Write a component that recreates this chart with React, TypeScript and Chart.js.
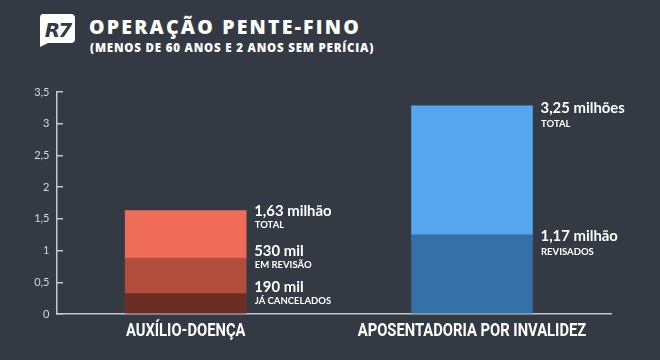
import React, { useEffect, useRef } from 'react';
import { Chart, registerables } from 'chart.js';

Chart.register(...registerables);

// ---- data ----
const categories = ['AUXÍLIO-DOENÇA', 'APOSENTADORIA POR INVALIDEZ'];
const yTickValues = [0, 0.5, 1, 1.5, 2, 2.5, 3, 3.5];

// stacked segment heights (millions) as drawn, bottom to top
const auxilioSegments = [0.32, 0.56, 0.75];
const aposentadoriaSegments = [1.25, 2.03];

const auxilioValueLabels = ['190 mil', '530 mil', '1,63 milhão'];
const auxilioCaptionLabels = ['JÁ CANCELADOS', 'EM REVISÃO', 'TOTAL'];
const aposentadoriaValueLabels = ['1,17 milhão', '3,25 milhões'];
const aposentadoriaCaptionLabels = ['REVISADOS', 'TOTAL'];

const titleText = 'OPERAÇÃO PENTE-FINO';
const subtitleText = '(MENOS DE 60 ANOS E 2 ANOS SEM PERÍCIA)';

// ---- styles ----
const BG = '#333a43';
const AXIS = '#c4c7cb';
const auxilioColors = ['#6b2e24', '#b34e3c', '#ef6c58'];
const aposentadoriaColors = ['#3570a7', '#56a6ef'];
const BAR_W = 121;
const LABEL_CONDENSE = 0.82;

const cumulative = (arr: number[]) => {
  let s = 0;
  return arr.map((v) => (s += v));
};

const auxilioLevels = cumulative(auxilioSegments);
const aposentadoriaLevels = cumulative(aposentadoriaSegments);

// label offsets (pixels) relative to each segment top
const auxilioDy = [-1.7, -2.3, 5.3];
const aposentadoriaDy = [6.4, 6.7];

const notesPlugin = {
  id: 'barNotes',
  afterDatasetsDraw(chart: any) {
    const ctx = chart.ctx;
    const xs = chart.scales.x;
    const ys = chart.scales.y;
    const groups = [
      { cat: 0, levels: auxilioLevels, values: auxilioValueLabels, captions: auxilioCaptionLabels, dy: auxilioDy, gap: 12.2 },
      { cat: 1, levels: aposentadoriaLevels, values: aposentadoriaValueLabels, captions: aposentadoriaCaptionLabels, dy: aposentadoriaDy, gap: 14 },
    ];
    ctx.save();
    ctx.fillStyle = '#ffffff';
    ctx.textAlign = 'left';
    ctx.textBaseline = 'alphabetic';
    groups.forEach((g) => {
      const px = xs.getPixelForValue(g.cat) + BAR_W / 2 + 8;
      g.levels.forEach((lv, i) => {
        const py = ys.getPixelForValue(lv) + g.dy[i];
        ctx.font = 'bold 16px Lato';
        const w = ctx.measureText(g.values[i]).width;
        ctx.fillText(g.values[i], px, py, w * 0.93);
        ctx.font = 'bold 9.5px Lato';
        ctx.fillText(g.captions[i], px + 0.5, py + g.gap);
      });
    });
    ctx.restore();
  },
};

// condense the category tick labels (narrow headline face in the reference)
function condenseLabels(scale: any) {
  if (scale._condensed) return;
  scale._condensed = true;
  const base = Object.getPrototypeOf(scale).drawLabels;
  scale.drawLabels = function (area: any) {
    const ctx = this.ctx;
    const orig = ctx.fillText;
    ctx.fillText = function (t: string, x: number, y: number) {
      const w = ctx.measureText(t).width * LABEL_CONDENSE;
      return orig.call(ctx, t, x, y, w);
    };
    try {
      base.call(this, area);
    } finally {
      ctx.fillText = orig;
    }
  };
}

export default function App() {
  const ref = useRef<HTMLCanvasElement | null>(null);

  useEffect(() => {
    if (!ref.current) return;
    const datasets: any[] = [];
    auxilioSegments.forEach((v, i) => {
      datasets.push({
        data: [{ x: 0, y: v }],
        backgroundColor: auxilioColors[i],
        borderWidth: 0,
        barThickness: BAR_W,
      });
    });
    aposentadoriaSegments.forEach((v, i) => {
      datasets.push({
        data: [{ x: 1, y: v }],
        backgroundColor: aposentadoriaColors[i],
        borderWidth: 0,
        barThickness: BAR_W,
      });
    });

    const chart = new Chart(ref.current, {
      type: 'bar',
      data: { datasets },
      options: {
        animation: false,
        responsive: false,
        maintainAspectRatio: false,
        layout: { padding: { top: 92, right: 49, left: 0, bottom: 0 } },
        plugins: { legend: { display: false }, tooltip: { enabled: false }, title: { display: false } },
        scales: {
          x: {
            type: 'linear',
            stacked: true,
            offset: false,
            min: -0.4495,
            max: 1.4855,
            afterBuildTicks: (scale: any) => {
              scale.ticks = categories.map((_, i) => ({ value: i }));
            },
            afterFit: (scale: any) => {
              scale.height = 46;
            },
            afterUpdate: (scale: any) => condenseLabels(scale),
            ticks: {
              autoSkip: false,
              maxRotation: 0,
              padding: 7,
              color: '#ffffff',
              font: { family: 'Roboto', size: 18, weight: 'bold' },
              callback: (v: any) => categories[v] ?? '',
            },
            grid: { display: false, drawTicks: false, offset: false },
            border: { display: true, color: AXIS, width: 1.5 },
          },
          y: {
            type: 'linear',
            stacked: true,
            min: 0,
            max: 3.5,
            afterBuildTicks: (scale: any) => {
              scale.ticks = yTickValues.map((v) => ({ value: v }));
            },
            afterFit: (scale: any) => {
              scale.width = 57;
            },
            ticks: {
              padding: 13.5,
              color: '#d6d8db',
              font: { family: 'Lato', size: 11 },
              callback: (v: any) => String(v).replace('.', ','),
            },
            grid: { drawOnChartArea: false, drawTicks: true, tickLength: -6, color: AXIS, lineWidth: 1.5 },
            border: { display: true, color: AXIS, width: 1.5 },
          },
        },
      },
      plugins: [notesPlugin],
    });
    return () => chart.destroy();
  }, []);

  return (
    <div style={{ position: 'fixed', left: 0, top: 0, width: 660, height: 360, background: BG, overflow: 'hidden' }}>
      <svg width={40} height={36} viewBox="0 0 40 36" style={{ position: 'absolute', left: 38, top: 12 }}>
        <path d="M5 2 H33 Q37 2 37 6 V27 Q37 31 33 31 H10 L2 35 V6 Q2 2 5 2 Z" fill="#ffffff" />
        <text x="19.5" y="24.5" textAnchor="middle" fontFamily="'DejaVu Sans'" fontWeight="bold" fontStyle="italic" fontSize="20" fill={BG} letterSpacing="-2">R7</text>
      </svg>
      <div style={{ position: 'absolute', left: 89, top: 15, fontFamily: "'Open Sans'", fontWeight: 800, fontSize: 19.5, lineHeight: '24px', letterSpacing: 2.2, color: '#ffffff', whiteSpace: 'nowrap' }}>
        {titleText}
      </div>
      <div style={{ position: 'absolute', left: 90, top: 40, fontFamily: "'Open Sans'", fontWeight: 800, fontSize: 11.5, lineHeight: '16px', letterSpacing: 0.8, color: '#ffffff', whiteSpace: 'nowrap' }}>
        {subtitleText}
      </div>
      <canvas ref={ref} width={660} height={360} style={{ position: 'absolute', left: 0, top: 0, width: 660, height: 360 }} />
    </div>
  );
}
